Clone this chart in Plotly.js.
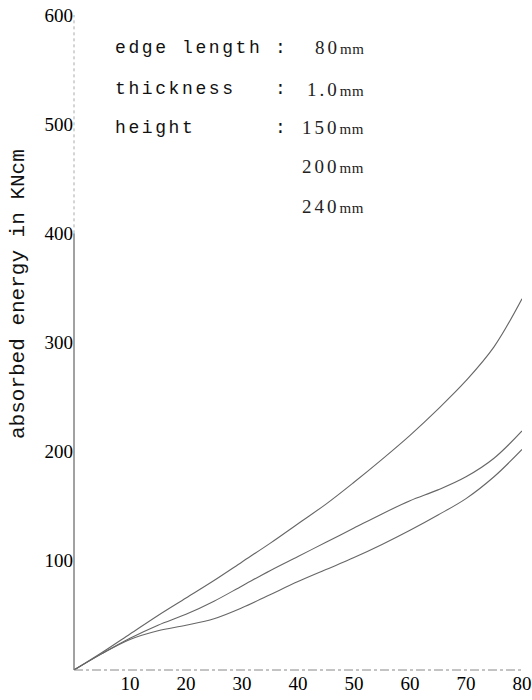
<!DOCTYPE html>
<html>
<head>
<meta charset="utf-8">
<script src="https://cdn.plot.ly/plotly-3.0.1.min.js"></script>
<style>
html, body { margin: 0; padding: 0; background: #fff; }
#chart { width: 532px; height: 700px; }
</style>
</head>
<body>
<div id="chart"></div>
<script>
// Deflection (x) values
const deflection = [0, 5, 10, 15, 20, 25, 30, 35, 40, 45, 50, 55, 60, 65, 70, 75, 80];

// Absorbed energy in KNcm for the three curves (top, middle, bottom)
const energyTop    = [0, 16, 33, 50, 66, 82, 99, 116, 134, 152, 172, 193, 215, 239, 265, 296, 340];
const energyMiddle = [0, 15, 29, 41, 51, 63, 77, 91, 104, 117, 130, 143, 155, 165, 177, 194, 219];
const energyBottom = [0, 15, 28, 36, 41, 47, 57, 69, 81, 92, 103, 115, 128, 142, 157, 177, 202];

const seriesNames = ["150mm", "200mm", "240mm"];

// Tick labels
const xTicks = [10, 20, 30, 40, 50, 60, 70, 80];
const yTicks = [100, 200, 300, 400, 500, 600];

// Specification text block
const specLabels = ["edge length", "thickness", "height", "", ""];
const specColons = [":", ":", ":", "", ""];
const specNumbers = ["80", "1.0", "150", "200", "240"];
const specUnit = "mm";
const yTitleText = "absorbed energy in KNcm";

const lineStyle = { color: "#666", width: 1.1, shape: "spline", smoothing: 1 };

const traces = [energyTop, energyMiddle, energyBottom].map((ys, i) => ({
  type: "scatter",
  mode: "lines",
  x: deflection,
  y: ys,
  name: seriesNames[i],
  line: lineStyle,
  hoverinfo: "x+y+name"
}));

// text block rows (pixel rows converted to data y)
const rowY = [570, 532, 496.5, 460.8, 425];
const annotations = [];
specLabels.forEach((lab, i) => {
  if (lab) annotations.push({
    xref: "x", yref: "y", x: 6.9, y: rowY[i], xanchor: "left", yanchor: "middle",
    text: '<span style="letter-spacing:2.6px">' + lab + '</span>',
    showarrow: false,
    font: { family: "Liberation Mono, DejaVu Sans Mono, monospace", size: 18, color: "#111" }
  });
  if (specColons[i]) annotations.push({
    xref: "x", yref: "y", x: 36.8, y: rowY[i], xanchor: "center", yanchor: "middle",
    text: specColons[i], showarrow: false,
    font: { family: "Liberation Mono, monospace", size: 18, color: "#111" }
  });
  annotations.push({
    xref: "x", yref: "y", x: 52.2, y: rowY[i], xanchor: "right", yanchor: "middle",
    text: '<span style="letter-spacing:3px">' + specNumbers[i] + '</span><span style="font-size:15px;letter-spacing:0.5px">' + specUnit + '</span>',
    showarrow: false,
    font: { family: "Liberation Serif, serif", size: 19, color: "#222" }
  });
});
annotations.push({
  xref: "paper", yref: "paper", x: -0.125, y: 0.574, xanchor: "center", yanchor: "middle",
  text: yTitleText, textangle: -90, showarrow: false,
  font: { family: "Liberation Mono, DejaVu Sans Mono, monospace", size: 21, color: "#111" }
});

const layout = {
  width: 532, height: 700,
  margin: { l: 74, r: 10, t: 15, b: 30 },
  paper_bgcolor: "#fff", plot_bgcolor: "#fff",
  showlegend: false,
  xaxis: {
    range: [0, 80], tickvals: xTicks, ticktext: xTicks.map(String),
    showgrid: false, zeroline: false, showline: false, ticks: "",
    tickfont: { family: "Liberation Serif, serif", size: 19, color: "#000" }
  },
  yaxis: {
    range: [0, 600], tickvals: yTicks, ticktext: yTicks.map(String),
    showgrid: false, zeroline: false, showline: false, ticks: "",
    tickfont: { family: "Liberation Serif, serif", size: 19, color: "#000" }
  },
  shapes: [
    { type: "line", xref: "paper", yref: "y", x0: 0, x1: 0, y0: 0, y1: 400, line: { color: "#444", width: 1 } },
    { type: "line", xref: "paper", yref: "y", x0: 0, x1: 0, y0: 400, y1: 600, line: { color: "#aaa", width: 1, dash: "dot" } },
    { type: "line", xref: "paper", yref: "paper", x0: 0, x1: 1, y0: 0, y1: 0, line: { color: "#888", width: 1, dash: "dashdot" } }
  ],
  annotations: annotations
};

Plotly.newPlot("chart", traces, layout, { displayModeBar: false, staticPlot: true });
</script>
</body>
</html>
